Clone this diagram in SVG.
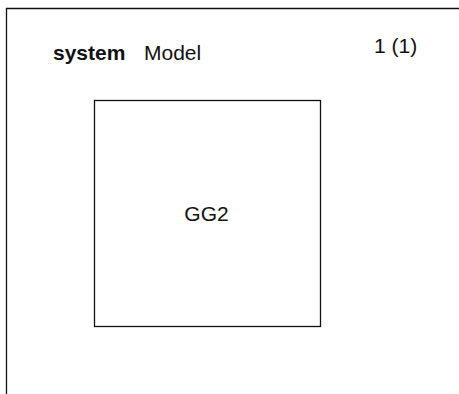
<svg xmlns="http://www.w3.org/2000/svg" width="459" height="394" viewBox="0 0 459 394">
<style>
.t{font-family:"Liberation Sans",Arial,sans-serif;font-size:21px;fill:#111}
.b{font-weight:bold}
.ln{fill:none;stroke:#111;stroke-width:1.3}
</style>
<rect width="459" height="394" fill="#fff"/>
<g id="frame">
<path class="ln" d="M6.5,400 V8.5 H470"/>
<text class="t b" x="53" y="59.5">system</text>
<text class="t" x="144" y="59.5">Model</text>
<text class="t" x="374" y="53">1 (1)</text>
</g>
<g id="GG2">
<rect class="ln" x="94.5" y="100.5" width="226" height="226"/>
<text class="t" x="206.5" y="220.5" text-anchor="middle">GG2</text>
</g>
<g id="connectors"></g>
</svg>
